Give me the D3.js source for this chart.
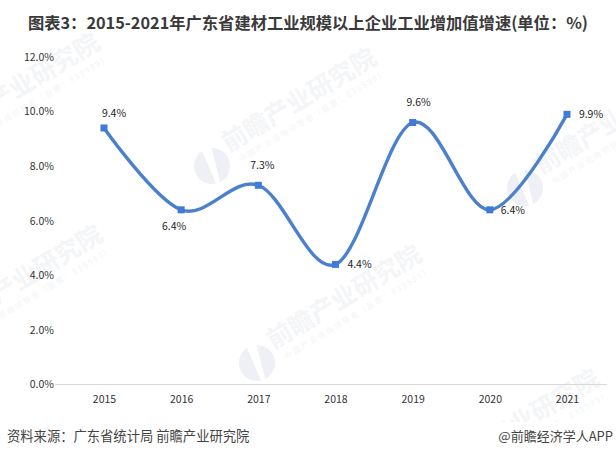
<!DOCTYPE html>
<html>
<head>
<meta charset="utf-8">
<script src="https://cdnjs.cloudflare.com/ajax/libs/d3/7.8.5/d3.min.js"></script>
<style>
	html, body { margin: 0; padding: 0; background: #fff; }
	text { font-family: "Noto Sans CJK SC", "Liberation Sans", sans-serif; }
</style>
</head>
<body>
<svg id="chart" width="616" height="457"></svg>
<script>
// Chart values.
const years = ['2015', '2016', '2017', '2018', '2019', '2020', '2021']
const growth = [9.4, 6.4, 7.3, 4.4, 9.6, 6.4, 9.9]
const yTicks = [0, 2, 4, 6, 8, 10, 12]

const titleText = '图表3：2015-2021年广东省建材工业规模以上企业工业增加值增速(单位：%)'
const sourceText = '资料来源：广东省统计局 前瞻产业研究院'
const creditText = '@前瞻经济学人APP'
const markName = '前瞻产业研究院'
const markSub = '中国产业咨询领导者（股票：839599）'

// Label offset from its point, one per year.
const labelOffsets = [[10, -15], [-7, 16], [4, -20], [24, 0], [6, -20], [23, 0], [24, 0]]

// Anchor of each watermark (centre of its round logo).
const markAnchors = [[-65, 151], [212, 166], [-62, 343], [257, 363], [525, 188], [435, 487]]

const svg = d3.select('#chart')

// Scales.
const x = d3.scalePoint().domain(years).range([104, 567])
const y = d3.scaleLinear().domain([0, 12]).range([384.5, 57])

// Watermarks go under everything else.
const mark = svg.append('g').selectAll('g')
	.data(markAnchors)
	.enter().append('g')
		.attr('transform', d => `translate(${d[0]}, ${d[1]}) rotate(-31)`)

mark.append('circle')
	.attr('r', 18)
	.attr('fill', '#eef0f5')

// White notch across the logo.
mark.append('path')
	.attr('d', 'M-12,-20 L-1,-20 L9,19 L5,20 Z')
	.attr('transform', 'rotate(31)')
	.attr('fill', '#fff')

mark.append('text')
	.attr('x', 21)
	.attr('y', -3)
	.attr('font-size', 25)
	.attr('font-weight', 700)
	.attr('fill', '#f4f5f7')
	.text(markName)

mark.append('text')
	.attr('x', 27)
	.attr('y', 12)
	.attr('font-size', 8)
	.attr('letter-spacing', 1.6)
	.attr('fill', '#f4f5f7')
	.text(markSub)

// Footer band hides the watermark below the plot.
svg.append('rect')
	.attr('x', 0)
	.attr('y', 422)
	.attr('width', 616)
	.attr('height', 35)
	.attr('fill', '#fff')

// Title.
svg.append('text')
	.attr('x', 308)
	.attr('y', 29)
	.attr('text-anchor', 'middle')
	.attr('font-size', 16.3)
	.attr('font-weight', 700)
	.attr('fill', '#3a3a3a')
	.text(titleText)

// Axes.
const yAxis = d3.axisLeft(y)
	.tickValues(yTicks)
	.tickSize(0)
	.tickPadding(0)
	.tickFormat(d => d.toFixed(1) + '%')

svg.append('g')
	.attr('transform', 'translate(54, 0)')
	.call(yAxis)
	.call(g => g.select('.domain').remove())
	.call(g => g.selectAll('text')
		.attr('font-size', 10.5)
		.attr('fill', '#333'))

const xAxis = d3.axisBottom(x)
	.tickSize(0)
	.tickPadding(11)

svg.append('g')
	.attr('transform', `translate(0, ${y(0)})`)
	.call(xAxis)
	.call(g => g.select('.domain')
		.attr('d', 'M55,0H607')
		.attr('stroke', '#d9d9d9'))
	.call(g => g.selectAll('text')
		.attr('font-size', 10.5)
		.attr('fill', '#333'))

// Smoothed line.
const line = d3.line()
	.x((d, i) => x(years[i]))
	.y(d => y(d))
	.curve(d3.curveCardinal.tension(0))

svg.append('path')
	.datum(growth)
	.attr('d', line)
	.attr('fill', 'none')
	.attr('stroke', '#4a80cc')
	.attr('stroke-width', 3.4)

// Square markers.
const pointSize = 7

svg.append('g').selectAll('rect')
	.data(growth)
	.enter().append('rect')
		.attr('x', (d, i) => x(years[i]) - pointSize / 2)
		.attr('y', d => y(d) - pointSize / 2)
		.attr('width', pointSize)
		.attr('height', pointSize)
		.attr('fill', '#3f7ad6')

// Value labels.
svg.append('g').selectAll('text')
	.data(growth)
	.enter().append('text')
		.attr('x', (d, i) => x(years[i]) + labelOffsets[i][0])
		.attr('y', (d, i) => y(d) + labelOffsets[i][1])
		.attr('dy', '0.35em')
		.attr('text-anchor', 'middle')
		.attr('font-size', 10.5)
		.attr('fill', '#222')
		.text(d => d.toFixed(1) + '%')

// Footer.
svg.append('text')
	.attr('x', 7)
	.attr('y', 441)
	.attr('font-size', 13.3)
	.attr('fill', '#444')
	.text(sourceText)

svg.append('text')
	.attr('x', 613)
	.attr('y', 441)
	.attr('text-anchor', 'end')
	.attr('font-size', 13)
	.attr('fill', '#444')
	.text(creditText)
</script>
</body>
</html>
